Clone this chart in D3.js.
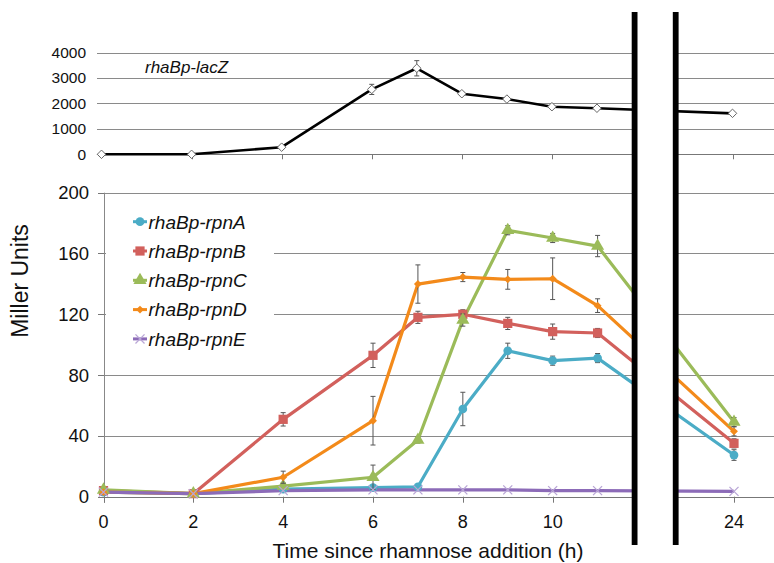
<!DOCTYPE html>
<html><head><meta charset="utf-8">
<script src="https://cdn.jsdelivr.net/npm/d3@7"></script>
<style>body{margin:0;background:#fff}svg{display:block}text{font-family:"Liberation Sans",Arial,sans-serif}</style>
</head><body><svg id="c" width="774" height="563"></svg>
<script>
const hours = [0,2,4,6,7,8,9,10,11,24];
const lacZ    = [0, 0, 280, 2550, 3380, 2380, 2170, 1870, 1810, 1610];
const lacZErr = [0, 0, 60, 200, 300, 60, 60, 50, 40, 40];
const rpnA    = [3, 2, 5, 6, 6.5, 57.7, 96, 89.5, 91.2, 27.4];
const rpnAErr = [1, 1, 1.5, 1, 1, 11, 5, 3, 3, 3.5];
const rpnB    = [4, 2, 50.9, 93, 118, 120, 114, 108.6, 107.7, 35.1];
const rpnBErr = [1, 1, 4.4, 8, 4, 3, 4, 5, 3, 3];
const rpnC    = [4.5, 2, 7, 12.8, 37.3, 116.2, 175.3, 170.2, 164.9, 49.1];
const rpnCErr = [1, 1, 2, 8, 2, 4, 3, 3, 7, 3];
const rpnD    = [3, 2, 12.8, 50, 139.9, 144.5, 143, 143.4, 125.7, 43];
const rpnDErr = [1, 1, 4, 16, 12.6, 3, 6.5, 13.7, 4.5, 3];
const rpnE    = [3, 2, 4, 4.5, 4.5, 4.5, 4.5, 4, 4, 3.5];
const rpnEErr = [0.5, 0.5, 0.5, 0.5, 0.5, 0.5, 0.5, 0.5, 0.5, 0.5];
const seriesNames = ["rhaBp-rpnA","rhaBp-rpnB","rhaBp-rpnC","rhaBp-rpnD","rhaBp-rpnE"];
const topLabel = "rhaBp-lacZ";
const xTicks = [0,2,4,6,8,10,24];
const yTicksBottom = [0,40,80,120,160,200];
const yTicksTop = [0,1000,2000,3000,4000];

const colors = ["#4BACC6","#D2605C","#9BBB59","#F38A1A","#8C6BB8"];
const shapes = ["circle","square","triangle","diamond","cross"];
const seriesVals = [rpnA,rpnB,rpnC,rpnD,rpnE];
const seriesErrs = [rpnAErr,rpnBErr,rpnCErr,rpnDErr,rpnEErr];

const svg = d3.select("#c");
const W = 774;
const xB = d3.scaleLinear().domain([0,12,24]).range([103.5,642.5,734]);
const xT = d3.scaleLinear().domain([0,12,24]).range([101.5,642,732.5]);
const yB = d3.scaleLinear().domain([0,200]).range([496.7,192.7]);
const yT = d3.scaleLinear().domain([0,4000]).range([154.3,52.5]);

// ---- top panel ----
const gT = svg.append("g");
gT.selectAll("line.grid").data(yTicksTop).join("line")
  .attr("x1",97).attr("x2",W).attr("y1",d=>Math.round(yT(d))+0.5).attr("y2",d=>Math.round(yT(d))+0.5)
  .attr("stroke",d=>d===0?"#777":"#8a8a8a").attr("stroke-width",1);
gT.selectAll("text.yl").data(yTicksTop).join("text")
  .attr("x",86).attr("y",d=>yT(d)+5.5).attr("text-anchor","end")
  .attr("font-size",15.5).attr("fill","#111").text(d=>d);
gT.selectAll("line.xt").data(xTicks.filter(d=>d>0)).join("line")
  .attr("x1",d=>Math.round(xT(d))+0.5).attr("x2",d=>Math.round(xT(d))+0.5)
  .attr("y1",yT(0)).attr("y2",yT(0)+5).attr("stroke","#777");
gT.append("text").attr("x",145).attr("y",73).attr("font-size",17).attr("font-style","italic")
  .attr("fill","#111").text(topLabel);
gT.append("path").datum(hours.map((h,i)=>[h,lacZ[i]]))
  .attr("d",d3.line().x(d=>xT(d[0])).y(d=>yT(d[1])))
  .attr("fill","none").attr("stroke","#000").attr("stroke-width",2.6).attr("stroke-linejoin","round");
hours.forEach((h,i)=>{
  if(lacZErr[i]>0){
    const x=xT(h), y1=yT(lacZ[i]-lacZErr[i]), y2=yT(lacZ[i]+lacZErr[i]);
    gT.append("line").attr("x1",x).attr("x2",x).attr("y1",y1).attr("y2",y2).attr("stroke","#555");
    [y1,y2].forEach(y=>gT.append("line").attr("x1",x-2.5).attr("x2",x+2.5).attr("y1",y).attr("y2",y).attr("stroke","#555"));
  }
});
gT.selectAll("path.mk").data(hours.map((h,i)=>[h,lacZ[i]])).join("path")
  .attr("d",d3.symbol(d3.symbolDiamond2,46))
  .attr("transform",d=>`translate(${xT(d[0])},${yT(d[1])})`)
  .attr("fill","#fff").attr("stroke","#666").attr("stroke-width",1);

// ---- bottom panel ----
const gB = svg.append("g");
gB.selectAll("line.grid").data(yTicksBottom).join("line")
  .attr("x1",d=>d===0?98:104).attr("x2",W)
  .attr("y1",d=>Math.round(yB(d))+0.5).attr("y2",d=>Math.round(yB(d))+0.5)
  .attr("stroke",d=>d===0?"#777":"#8a8a8a").attr("stroke-width",1);
gB.selectAll("line.yt").data(yTicksBottom).join("line")
  .attr("x1",98).attr("x2",104).attr("y1",d=>Math.round(yB(d))+0.5).attr("y2",d=>Math.round(yB(d))+0.5)
  .attr("stroke","#777");
gB.append("line").attr("x1",104.5).attr("x2",104.5).attr("y1",yB(200)).attr("y2",yB(0)+6).attr("stroke","#888");
gB.selectAll("text.yl").data(yTicksBottom).join("text")
  .attr("x",89).attr("y",d=>yB(d)+6.5).attr("text-anchor","end")
  .attr("font-size",18.5).attr("fill","#111").text(d=>d);
gB.selectAll("line.xt").data(xTicks).join("line")
  .attr("x1",d=>Math.round(xB(d))+0.5).attr("x2",d=>Math.round(xB(d))+0.5)
  .attr("y1",yB(0)).attr("y2",yB(0)+6).attr("stroke","#777");
gB.selectAll("text.xl").data(xTicks).join("text")
  .attr("x",d=>xB(d)).attr("y",528).attr("text-anchor","middle")
  .attr("font-size",18).attr("fill","#111").text(d=>d);
gB.append("text").attr("x",428).attr("y",558).attr("text-anchor","middle")
  .attr("font-size",21).attr("fill","#111").text("Time since rhamnose addition (h)");
gB.append("text").attr("transform","translate(28,281) rotate(-90)").attr("text-anchor","middle")
  .attr("font-size",23).attr("fill","#111").text("Miller Units");

// legend white background over gridlines
gB.append("rect").attr("x",106).attr("y",205).attr("width",168).attr("height",150).attr("fill","#fff");

function marker(sel, shape, color){
  if(shape==="circle") sel.attr("d",d3.symbol(d3.symbolCircle,60)).attr("fill",color);
  else if(shape==="square") sel.attr("d",d3.symbol(d3.symbolSquare,85)).attr("fill",color);
  else if(shape==="triangle") sel.attr("d",d3.symbol(d3.symbolTriangle,75)).attr("fill",color);
  else if(shape==="diamond") sel.attr("d",d3.symbol(d3.symbolDiamond2,40)).attr("fill",color);
  else sel.attr("d",d3.symbol(d3.symbolX,55)).attr("fill","none").attr("stroke","#B9A6D6").attr("stroke-width",1.3);
}

seriesVals.forEach((vals,s)=>{
  const pts = hours.map((h,i)=>[h,vals[i]]);
  gB.append("path").datum(pts)
    .attr("d",d3.line().x(d=>xB(d[0])).y(d=>yB(d[1])))
    .attr("fill","none").attr("stroke",colors[s]).attr("stroke-width",3.2).attr("stroke-linejoin","round");
});
seriesVals.forEach((vals,s)=>{
  const errs = seriesErrs[s];
  hours.forEach((h,i)=>{
    if(s===4) return;
    const x=xB(h), y1=yB(vals[i]-errs[i]), y2=yB(vals[i]+errs[i]);
    gB.append("line").attr("x1",x).attr("x2",x).attr("y1",y1).attr("y2",y2).attr("stroke","#555").attr("stroke-width",1);
    [y1,y2].forEach(y=>gB.append("line").attr("x1",x-2.5).attr("x2",x+2.5).attr("y1",y).attr("y2",y).attr("stroke","#555"));
  });
  gB.selectAll(null).data(hours.map((h,i)=>[h,vals[i]])).join("path")
    .attr("transform",d=>`translate(${xB(d[0])},${yB(d[1])})`)
    .call(marker, shapes[s], colors[s]);
});

// legend
const legY = [221.7,251,280.3,309.6,338.9];
seriesNames.forEach((n,s)=>{
  const g = gB.append("g");
  g.append("line").attr("x1",133).attr("x2",147).attr("y1",legY[s]).attr("y2",legY[s])
    .attr("stroke",colors[s]).attr("stroke-width",3);
  g.append("path").attr("transform",`translate(140,${legY[s]})`).call(marker, shapes[s], colors[s]);
  g.append("text").attr("x",148.5).attr("y",legY[s]+6.8).attr("font-size",19).attr("font-style","italic")
    .attr("fill","#111").text(n);
});

// axis break
svg.append("rect").attr("x",634).attr("y",8).attr("width",42).attr("height",540).attr("fill","#fff");
svg.append("rect").attr("x",631.7).attr("y",12).attr("width",5.8).attr("height",533).attr("fill","#000");
svg.append("rect").attr("x",672.8).attr("y",12).attr("width",5.8).attr("height",533).attr("fill","#000");
</script></body></html>
